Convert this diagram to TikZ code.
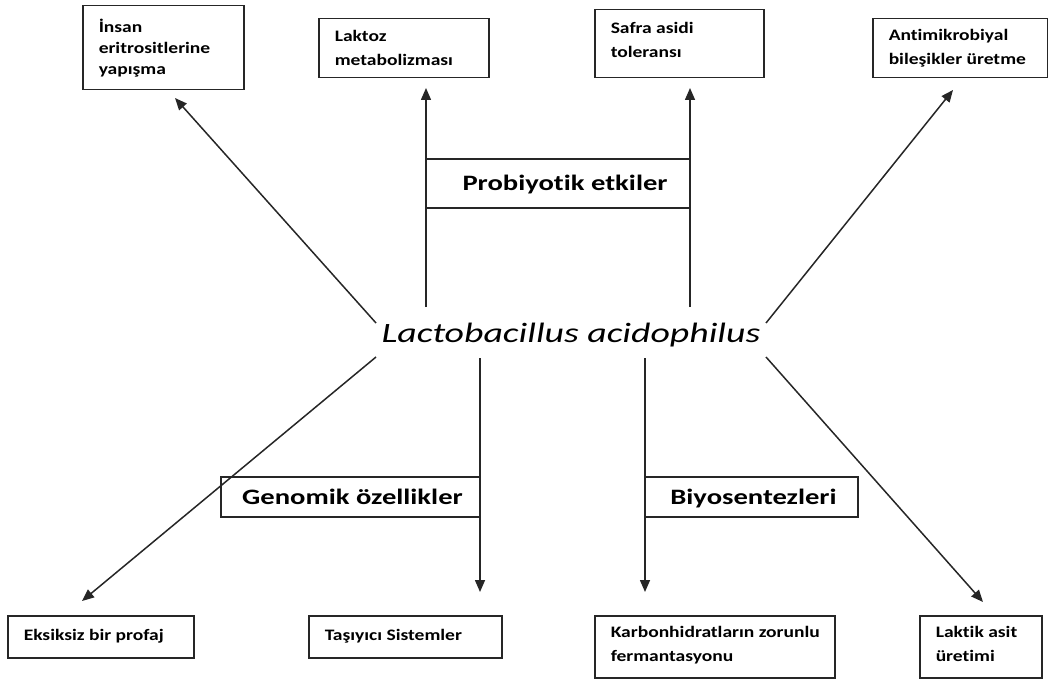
\documentclass[tikz,border=0pt]{standalone}
\usepackage{fontspec}
\setmainfont{Carlito}[Ligatures=NoCommon]
\newfontfamily\boxfont{Carlito}[FakeStretch=1.22, Ligatures=NoCommon]
\newfontfamily\labfont{Carlito}[FakeStretch=1.3, Ligatures=NoCommon]
\newfontfamily\midfont{Carlito}[FakeStretch=1.35, Ligatures=NoCommon]
\usetikzlibrary{arrows.meta}
\begin{document}
\begin{tikzpicture}[x=1pt,y=-1pt,
  box/.style={draw=black!85, line width=1.5pt, anchor=north west, inner xsep=16pt, inner ysep=0pt, align=flush left, font=\boxfont\bfseries\fontsize{16}{24}\selectfont},
  lab/.style={draw=black!85, line width=1.4pt, inner sep=0pt, text height=14pt, text depth=0pt, font=\labfont\bfseries\fontsize{22}{24}\selectfont},
  arr/.style={line width=1.5pt, draw=black!85, -{Triangle[length=12pt,width=10pt]}}]
\useasboundingbox (0,0) rectangle (1048,682);
% top boxes
\node[box, text width=129pt, minimum height=84pt, font=\boxfont\bfseries\fontsize{16}{21}\selectfont] (insan) at (82,5) {İnsan\\eritrositlerine\\yapışma};
\node[box, text width=138pt, minimum height=59pt] (laktoz) at (318,18) {Laktoz\\metabolizması};
\node[box, text width=137pt, minimum height=68pt] (safra) at (594,9) {Safra asidi\\toleransı\\[-17pt]\mbox{}};
\node[box, text width=143pt, minimum height=59pt] (anti) at (872,18) {Antimikrobiyal\\bileşikler üretme};
% bottom boxes
\node[box, text width=154pt, minimum height=42pt] (eks) at (7,615) {Eksiksiz bir profaj\\[-20pt]\mbox{}};
\node[box, text width=161pt, minimum height=42pt] (tas) at (308,615) {Taşıyıcı Sistemler\\[-20pt]\mbox{}};
\node[box, text width=208pt, minimum height=62pt] (karb) at (594,615) {\mbox{Karbonhidratların zorunlu}\\fermantasyonu\\[-18pt]\mbox{}};
\node[box, text width=90pt, minimum height=62pt] (lakt) at (919,615) {Laktik asit\\üretimi\\[-18pt]\mbox{}};
% centre
\node[font=\midfont\itshape\fontsize{28}{32}\selectfont, inner sep=0pt] (lacto) at (571,335) {Lactobacillus acidophilus};
% label boxes
\node[lab, minimum width=264pt, minimum height=49pt] (prob) at (558,183.5) {\hspace*{14pt}Probiyotik etkiler};
\node[lab, minimum width=259pt, minimum height=40pt] (gen) at (350.5,497) {\hspace*{4pt}Genomik özellikler};
\node[lab, minimum width=213pt, minimum height=40pt] (bio) at (751.5,497) {\hspace*{4pt}Biyosentezleri};
% connector end points
\coordinate (s1) at (376,323); \coordinate (t1) at (175,98);
\coordinate (s2) at (426,307); \coordinate (t2) at (426,88);
\coordinate (s3) at (690,307); \coordinate (t3) at (690,88);
\coordinate (s4) at (766,323); \coordinate (t4) at (953,90);
\coordinate (s5) at (376,357); \coordinate (t5) at (82,601);
\coordinate (s6) at (480,358); \coordinate (t6) at (480,592);
\coordinate (s7) at (645,358); \coordinate (t7) at (645,592);
\coordinate (s8) at (766,357); \coordinate (t8) at (983,602);
\draw[arr] (s1) -- (t1);
\draw[arr] (s2) -- (t2);
\draw[arr] (s3) -- (t3);
\draw[arr] (s4) -- (t4);
\draw[arr] (s5) -- (t5);
\draw[arr] (s6) -- (t6);
\draw[arr] (s7) -- (t7);
\draw[arr] (s8) -- (t8);
\end{tikzpicture}
\end{document}
